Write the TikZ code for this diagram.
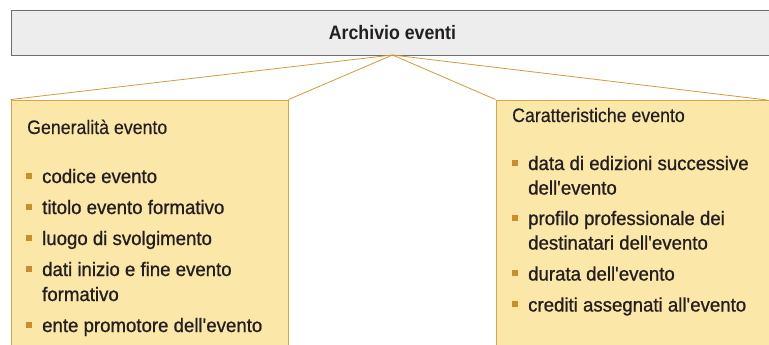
\documentclass[tikz,border=0pt]{standalone}
\usepackage{fontspec}
\setmainfont{Liberation Sans}[FakeStretch=0.91]
\newfontfamily\itmfont{Liberation Sans}[FakeStretch=0.955,FakeBold=0.9]
\newfontfamily\ttlfont{Liberation Sans}[FakeStretch=0.91,FakeBold=0.4]
\definecolor{txt}{HTML}{231F20}
\definecolor{gfill}{HTML}{EDEDED}
\definecolor{gline}{HTML}{6E6E6E}
\definecolor{yfill}{HTML}{FBE8A9}
\definecolor{yline}{HTML}{D8A64A}
\definecolor{conn}{HTML}{D49A3C}
\definecolor{bulc}{HTML}{C98F2A}
\tikzset{
  topbox/.style={draw=gline, fill=gfill, line width=0.9pt, inner sep=0},
  ybox/.style={draw=yline, fill=yfill, line width=0.9pt, inner sep=0},
  conline/.style={draw=conn, line width=0.8pt},
  ttl/.style={anchor=base west, inner sep=0, text=txt, font=\ttlfont\fontsize{19.5}{25}\selectfont},
  itm/.style={anchor=base west, inner sep=0, text=txt, font=\itmfont\fontsize{19.5}{25}\selectfont},
  bul/.style={fill=bulc, minimum size=6pt, inner sep=0, draw=none},
  hdr/.style={anchor=base, inner sep=0, text=txt, font=\fontsize{19.5}{25}\selectfont\bfseries}
}
\newcommand{\ap}{\textquotesingle}
\begin{document}
\begin{tikzpicture}[x=1pt,y=-1pt]
\useasboundingbox[fill=white] (0,0) rectangle (769,345);
% top box
\node[topbox, minimum width=775pt, minimum height=45pt] (top) at (398.5,32.5) {};
\node[hdr] (toptxt) at (392.5,40) {Archivio eventi};
\coordinate (apex) at (392.5,55);
% yellow boxes
\node[ybox, minimum width=277pt, minimum height=270pt] (lbox) at (149.5,235) {};
\node[ybox, minimum width=290pt, minimum height=270pt] (rbox) at (641,235) {};
\coordinate (rc) at (767,100);
% connectors
\draw[conline] (apex) -- (lbox.north west);
\draw[conline] (apex) -- (lbox.north east);
\draw[conline] (apex) -- (rbox.north west);
\draw[conline] (apex) -- (rc);
% left content
\node[ttl] (lt) at (27,134) {Generalità evento};
\node[bul] (lb1) at (29,175.5) {};
\node[itm] (l1) at (42,183) {codice evento};
\node[bul] (lb2) at (29,206.5) {};
\node[itm] (l2) at (42,214) {titolo evento formativo};
\node[bul] (lb3) at (29,237.5) {};
\node[itm] (l3) at (42,245) {luogo di svolgimento};
\node[bul] (lb4) at (29,268.5) {};
\node[itm] (l4) at (42,276) {dati inizio e fine evento};
\node[itm] (l4b) at (42,301) {formativo};
\node[bul] (lb5) at (29,324.5) {};
\node[itm] (l5) at (42,332) {ente promotore dell\ap evento};
% right content
\node[ttl] (rt) at (512,122) {Caratteristiche evento};
\node[bul] (rb1) at (515,162.5) {};
\node[itm] (r1) at (528,170) {data di edizioni successive};
\node[itm] (r1b) at (528,194.5) {dell\ap evento};
\node[bul] (rb2) at (515,217.5) {};
\node[itm] (r2) at (528,225) {profilo professionale dei};
\node[itm] (r2b) at (528,249.5) {destinatari dell\ap evento};
\node[bul] (rb3) at (515,273) {};
\node[itm] (r3) at (528,280.5) {durata dell\ap evento};
\node[bul] (rb4) at (515,304) {};
\node[itm] (r4) at (528,311.5) {crediti assegnati all\ap evento};
\end{tikzpicture}
\end{document}
